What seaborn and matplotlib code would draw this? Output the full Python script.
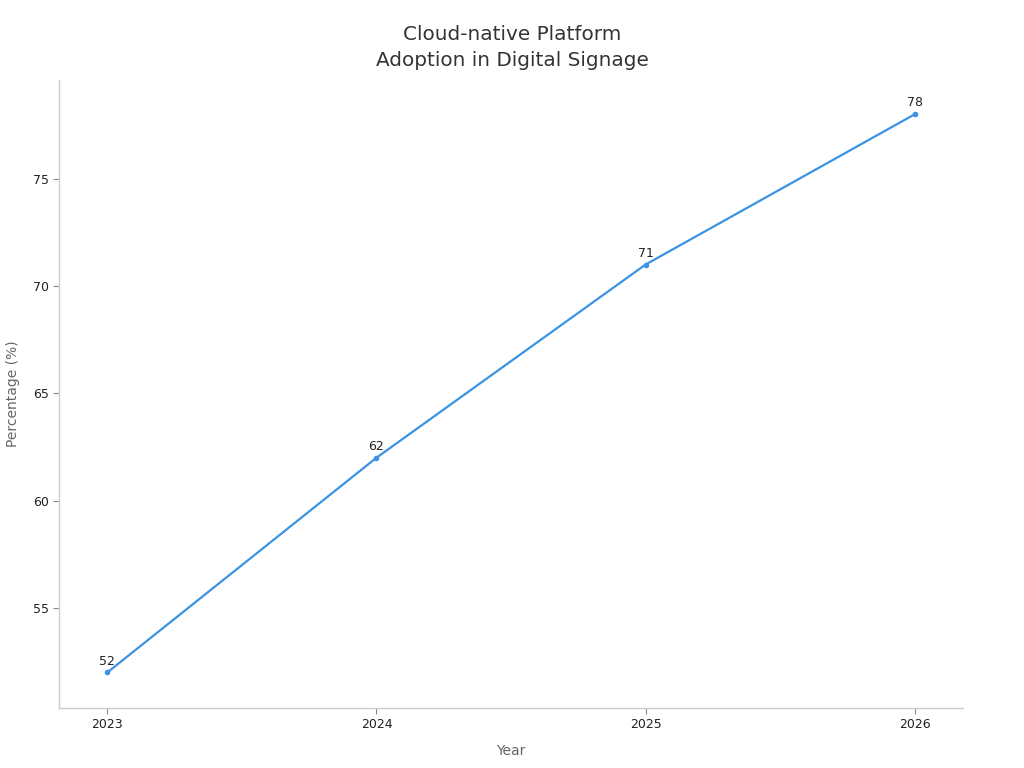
import pandas as pd
import seaborn as sns
import matplotlib.pyplot as plt

years = [2023, 2024, 2025, 2026]
pct = [52, 62, 71, 78]

df = pd.DataFrame({"Year": years, "Percentage (%)": pct})

sns.set_theme(style="ticks")
plt.rcParams["font.family"] = ["DejaVu Sans"]

fig = plt.figure(figsize=(10.24, 7.68), dpi=100)
ax = fig.add_axes([59 / 1024, 1 - 708 / 768, (963 - 59) / 1024, (708 - 80) / 768])

sns.lineplot(data=df, x="Year", y="Percentage (%)", ax=ax, color="#3a93e3",
             linewidth=1.6, marker="o", markersize=4, markeredgewidth=0)

for x, y in zip(years, pct):
    ax.annotate(str(y), (x, y), xytext=(0, 3.5), textcoords="offset points",
                ha="center", va="bottom", fontsize=9, color="#222222")

ax.set_xlim(2022.82, 2026.18)
ax.set_ylim(50.34, 79.6)
ax.set_xticks(years)
ax.set_xticklabels([str(y) for y in years])
ax.set_yticks([55, 60, 65, 70, 75])
ax.tick_params(labelsize=9, colors="#222222", length=4, width=0.8)
ax.tick_params(axis="both", color="#888888")

for s in ["top", "right"]:
    ax.spines[s].set_visible(False)
for s in ["left", "bottom"]:
    ax.spines[s].set_color("#cccccc")
    ax.spines[s].set_linewidth(1)

ax.set_xlabel("Year", fontsize=10, color="#666666", labelpad=9)
ax.set_ylabel("Percentage (%)", fontsize=10, color="#666666", labelpad=9)

fig.suptitle("Cloud-native Platform\nAdoption in Digital Signage", fontsize=14.4,
             color="#333333", x=512 / 1024, y=1 - 24.5 / 768, va="top",
             linespacing=1.5)

fig.savefig("out.png", dpi=100)
